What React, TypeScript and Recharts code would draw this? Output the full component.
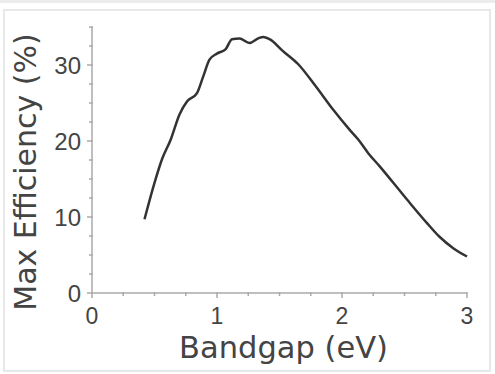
import React from "react";
import { LineChart, Line, XAxis, YAxis } from "recharts";

const bandgap = [0.42, 0.5, 0.56, 0.63, 0.7, 0.76, 0.84, 0.89, 0.94, 1.0, 1.07, 1.12, 1.18, 1.26, 1.33, 1.37, 1.42, 1.53, 1.65, 1.79, 1.93, 2.06, 2.13, 2.21, 2.3, 2.52, 2.68, 2.78, 2.89, 3.0];
const efficiency = [9.7, 14.5, 17.6, 20.2, 23.5, 25.2, 26.3, 28.5, 30.7, 31.5, 32.1, 33.4, 33.5, 32.9, 33.5, 33.7, 33.4, 31.8, 30.1, 27.2, 24.1, 21.5, 20.2, 18.4, 16.7, 12.3, 9.2, 7.4, 5.9, 4.8];

const xTicks = [0, 0.25, 0.5, 0.75, 1, 1.25, 1.5, 1.75, 2, 2.25, 2.5, 2.75, 3];
const xMajor = [0, 1, 2, 3];
const yTicks = [0, 2.5, 5, 7.5, 10, 12.5, 15, 17.5, 20, 22.5, 25, 27.5, 30, 32.5, 35];
const yMajor = [0, 10, 20, 30];

const data = bandgap.map((b, i) => ({ bandgap: b, efficiency: efficiency[i] }));

const AXIS = "#aaaaaa";
const TEXT = "#444444";
const TICK_FONT = "'Liberation Sans', Arial, sans-serif";
const TITLE_FONT = "'DejaVu Sans', sans-serif";

const XTick = (props: any) => {
  const { x, y, payload } = props;
  const major = xMajor.includes(payload.value);
  return (
    <g>
      <line x1={x} x2={x} y1={y - 1} y2={y + (major ? 5 : 3)} stroke={AXIS} strokeWidth={1.5} />
      {major && (
        <text x={x} y={y + 31} textAnchor="middle" fontSize={23} fontFamily={TICK_FONT} fill={TEXT}>
          {payload.value}
        </text>
      )}
    </g>
  );
};

const YTick = (props: any) => {
  const { x, y, payload } = props;
  const major = yMajor.includes(payload.value);
  return (
    <g>
      <line x1={x + 1} x2={x - (major ? 5 : 3)} y1={y} y2={y} stroke={AXIS} strokeWidth={1.5} />
      {major && (
        <text x={x - 11} y={y} dy="0.36em" textAnchor="end" fontSize={24} fontFamily={TICK_FONT} fill={TEXT}>
          {payload.value}
        </text>
      )}
    </g>
  );
};

const XTitle = (props: any) => {
  const { viewBox } = props;
  return (
    <text x={viewBox.x + viewBox.width / 2 + 4} y={viewBox.y + 65} textAnchor="middle" fontSize={30.5} fontFamily={TITLE_FONT} fill={TEXT}>
      Bandgap (eV)
    </text>
  );
};

const YTitle = (props: any) => {
  const { viewBox } = props;
  const cx = viewBox.x - 7;
  const cy = viewBox.y + viewBox.height / 2 + 12;
  return (
    <text x={cx} y={cy} transform={`rotate(-90 ${cx} ${cy})`} textAnchor="middle" dy="0.35em" fontSize={30} fontFamily={TITLE_FONT} fill={TEXT}>
      Max Efficiency (%)
    </text>
  );
};

export default function App() {
  return (
    <div style={{ position: "absolute", left: 0, top: 0, width: 495, height: 374, background: "#ffffff", overflow: "hidden" }}>
      <div style={{ position: "absolute", left: 0, top: 0, width: 495, height: 3, background: "#ececec" }} />
      <div style={{ position: "absolute", left: 3, top: 9, width: 488, height: 363, border: "2px solid #e8e8e8", boxSizing: "border-box" }} />
      <div style={{ position: "absolute", left: 0, top: 0 }}>
        <LineChart width={495} height={374} data={data} margin={{ top: 27, right: 28, left: 32, bottom: 11 }}>
          <XAxis
            dataKey="bandgap"
            type="number"
            domain={[0, 3]}
            ticks={xTicks}
            interval={0}
            height={70}
            tickSize={0}
            tickMargin={0}
            tickLine={false}
            tick={<XTick />}
            axisLine={{ stroke: AXIS, strokeWidth: 1.5 }}
            label={<XTitle />}
          />
          <YAxis
            type="number"
            domain={[0, 35]}
            ticks={yTicks}
            interval={0}
            width={60}
            tickSize={0}
            tickMargin={0}
            tickLine={false}
            tick={<YTick />}
            axisLine={{ stroke: AXIS, strokeWidth: 1.5 }}
            label={<YTitle />}
          />
          <Line
            dataKey="efficiency"
            type="monotone"
            stroke="#333333"
            strokeWidth={2.5}
            dot={false}
            isAnimationActive={false}
          />
        </LineChart>
      </div>
    </div>
  );
}
